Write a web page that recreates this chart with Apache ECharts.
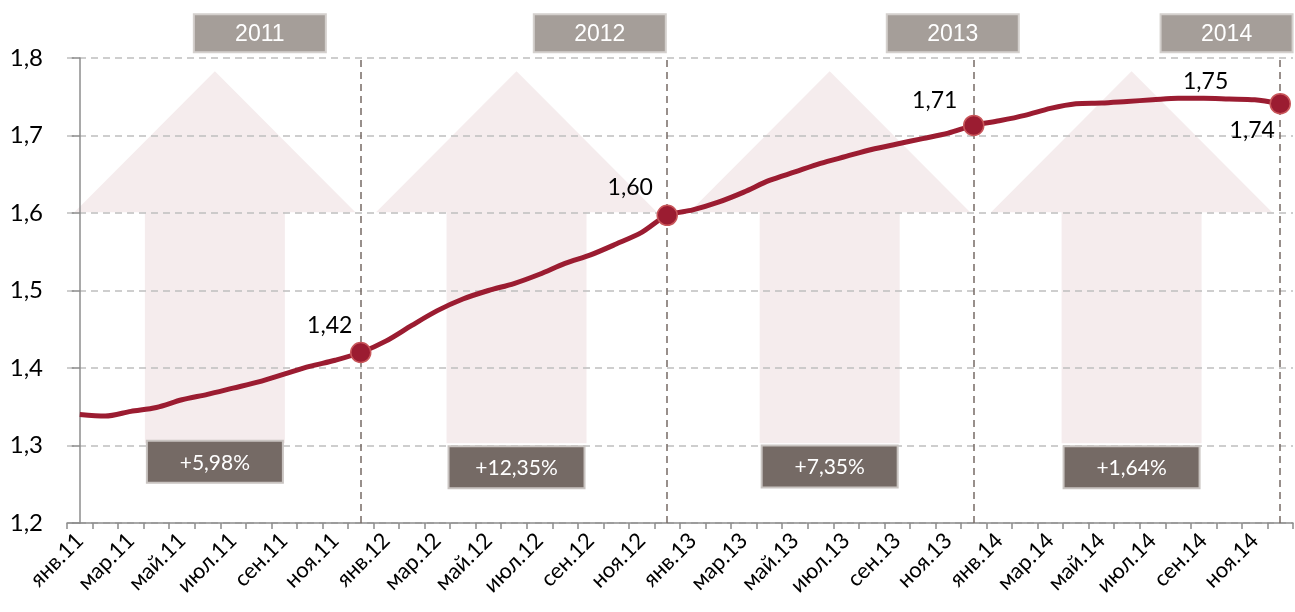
<!DOCTYPE html>
<html><head><meta charset="utf-8">
<script src="https://cdn.jsdelivr.net/npm/echarts@6/dist/echarts.min.js"></script>
<style>html,body{margin:0;padding:0;background:#fff}#c{width:1295px;height:612px}</style>
</head><body><div id="c"></div>
<script>
// ---- data ----
const months = ['янв','фев','мар','апр','май','июн','июл','авг','сен','окт','ноя','дек'];
const yearSuffixes = ['11','12','13','14'];
const categories = [];
yearSuffixes.forEach(y => months.forEach(m => categories.push(m + '.' + y)));

const values2011 = [1.340, 1.338, 1.344, 1.349, 1.359, 1.366, 1.374, 1.382, 1.392, 1.402, 1.410, 1.420];
const values2012 = [1.435, 1.455, 1.474, 1.489, 1.500, 1.509, 1.521, 1.535, 1.546, 1.560, 1.575, 1.597];
const values2013 = [1.604, 1.614, 1.627, 1.642, 1.653, 1.664, 1.673, 1.682, 1.689, 1.696, 1.703, 1.713];
const values2014 = [1.719, 1.726, 1.735, 1.741, 1.742, 1.744, 1.746, 1.748, 1.748, 1.747, 1.746, 1.741];
const values = [].concat(values2011, values2012, values2013, values2014);

const yearLabels = ['2011', '2012', '2013', '2014'];
const growthLabels = ['+5,98%', '+12,35%', '+7,35%', '+1,64%'];
const yTicks = [1.2, 1.3, 1.4, 1.5, 1.6, 1.7, 1.8];

const markerIdx = [11, 23, 35, 47];      // year-end points with markers
const labelIdx = [11, 23, 35, 44, 47];   // points with value labels

// ---- layout of decorations (category-position units / axis values) ----
const arrowCenters = [5.29, 17.1, 29.36, 41.18];
const growthBoxY = [1.279, 1.272, 1.273, 1.272];
const yearBoxCenters = [7.05, 20.36, 34.18, 44.9];
const yearBoxY = 1.832;

const fmt = v => v.toFixed(2).replace('.', ',');
const labelPlace = {
  11: {position: 'top', offset: [-31, 0]},
  23: {position: 'top', offset: [-37, 0]},
  35: {position: 'top', offset: [-39, 2]},
  44: {position: 'top', offset: [2, 0]},
  47: {position: 'bottom', offset: [-28, 0]}
};

const lineData = values.map((v, i) => {
  const item = {value: v};
  if (markerIdx.includes(i)) {
    item.symbol = 'circle';
    item.symbolSize = 20;
  }
  if (labelIdx.includes(i)) {
    item.label = Object.assign({show: true, formatter: p => fmt(p.value)}, labelPlace[i]);
  }
  return item;
});

const chart = echarts.init(document.getElementById('c'), null, {renderer: 'canvas'});
const lblFont = 'Lato, "Noto Sans", sans-serif';

chart.setOption({
  animation: false,
  backgroundColor: '#ffffff',
  grid: {left: 67, right: 2, top: 58, bottom: 89, containLabel: false},
  xAxis: [{
    type: 'category',
    data: categories,
    boundaryGap: true,
    axisLine: {lineStyle: {color: '#8c8c8c', width: 1.5}},
    axisTick: {show: true, interval: 0, length: 6, lineStyle: {color: '#8c8c8c', width: 1.5}},
    axisLabel: {interval: 1, rotate: 45, margin: 14, color: '#000', fontSize: 22, fontFamily: lblFont},
    splitLine: {show: false}
  }, {
    type: 'value', min: -0.5, max: 47.5, show: false, gridIndex: 0
  }],
  yAxis: {
    type: 'value',
    min: 1.2, max: 1.8, interval: 0.1,
    axisLine: {show: true, lineStyle: {color: '#8c8c8c', width: 1.5}},
    axisTick: {show: true, length: 8, lineStyle: {color: '#8c8c8c', width: 1.5}},
    axisLabel: {margin: 24, color: '#000', fontSize: 24, fontFamily: lblFont,
      formatter: v => yTicks.includes(+v.toFixed(1)) ? v.toFixed(1).replace('.', ',') : ''},
    splitLine: {show: true, lineStyle: {color: '#bfbfbf', width: 1.5, type: [7, 5]}}
  },
  series: [{
    type: 'custom',
    xAxisIndex: 1, yAxisIndex: 0,
    z: -1, silent: true, clip: false,
    data: arrowCenters.map(c => [c]),
    encode: {x: 0},
    renderItem: (params, api) => {
      const c = api.value(0);
      const P = (dx, y) => api.coord([c + dx, y]);
      return {
        type: 'polygon',
        shape: {points: [P(0, 1.783), P(5.5, 1.601), P(2.74, 1.601), P(2.74, 1.303),
                         P(-2.74, 1.303), P(-2.74, 1.601), P(-5.5, 1.601)]},
        style: {fill: '#f5eced'}
      };
    }
  }, {
    type: 'line',
    data: lineData,
    smooth: 0.3,
    symbol: 'circle',
    symbolSize: 0,
    showAllSymbol: true,
    z: 5,
    lineStyle: {color: '#9b1c31', width: 5},
    itemStyle: {color: '#9b1c31', borderColor: '#c8565a', borderWidth: 1.5},
    label: {show: false, color: '#000', fontSize: 23, fontFamily: lblFont, distance: 5},
    markLine: {
      silent: true,
      symbol: 'none',
      label: {show: false},
      lineStyle: {color: '#776b66', width: 1.5, type: [7, 5]},
      data: markerIdx.map(i => ({xAxis: i}))
    }
  }, {
    type: 'custom',
    xAxisIndex: 1, yAxisIndex: 0,
    z: 6, silent: true, clip: false,
    data: arrowCenters.map((c, i) => [c, growthBoxY[i]]),
    encode: {x: 0, y: 1},
    renderItem: (params, api) => {
      const p = api.coord([api.value(0), api.value(1)]);
      return {type: 'group', children: [
        {type: 'rect', shape: {x: p[0] - 68, y: p[1] - 21, width: 136, height: 42},
         style: {fill: '#756a65', stroke: '#c9c4c1', lineWidth: 2}},
        {type: 'text', x: p[0], y: p[1] + 1,
         style: {text: growthLabels[params.dataIndex], fill: '#ffffff', font: '21px ' + lblFont,
                 align: 'center', verticalAlign: 'middle'}}
      ]};
    }
  }, {
    type: 'custom',
    xAxisIndex: 1, yAxisIndex: 0,
    z: 6, silent: true, clip: false,
    data: yearBoxCenters.map(c => [c, yearBoxY]),
    encode: {x: 0, y: 1},
    renderItem: (params, api) => {
      const p = api.coord([api.value(0), api.value(1)]);
      return {type: 'group', children: [
        {type: 'rect', shape: {x: p[0] - 66, y: p[1] - 19, width: 132, height: 38},
         style: {fill: '#a59e99', stroke: '#d4d0cd', lineWidth: 2}},
        {type: 'text', x: p[0], y: p[1] + 1,
         style: {text: yearLabels[params.dataIndex], fill: '#ffffff',
                 font: '23px "Liberation Sans", Arial, sans-serif',
                 align: 'center', verticalAlign: 'middle'}}
      ]};
    }
  }]
});
</script>
</body></html>
